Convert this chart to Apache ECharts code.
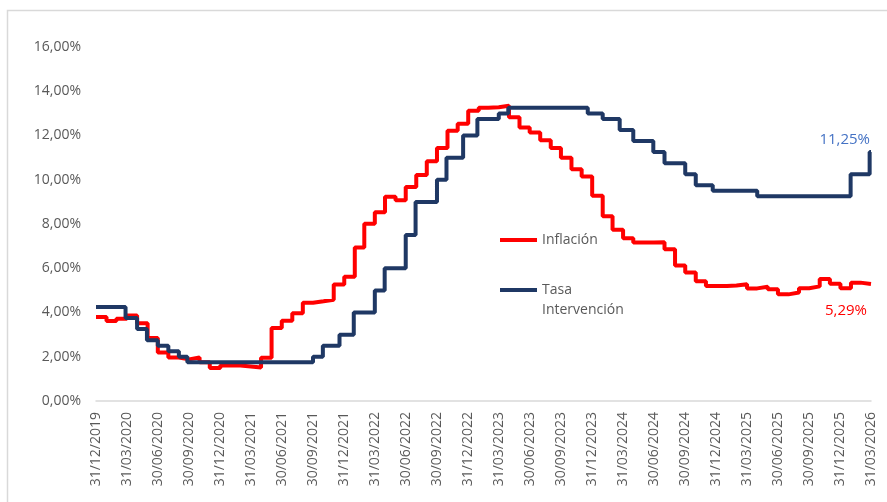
<!DOCTYPE html>
<html>
<head>
<meta charset="utf-8">
<script src="https://cdn.jsdelivr.net/npm/echarts@6/dist/echarts.min.js"></script>
<style>
    html, body { margin: 0; padding: 0; background: #fff; }
    #chart { width: 887px; height: 502px; }
</style>
</head>
<body>
<div id="chart"></div>
<script>
// fechas del eje (fin de trimestre)
var tickLabels = ['31/12/2019', '31/03/2020', '30/06/2020', '30/09/2020', '31/12/2020', '31/03/2021',
    '30/06/2021', '30/09/2021', '31/12/2021', '31/03/2022', '30/06/2022', '30/09/2022', '31/12/2022',
    '31/03/2023', '30/06/2023', '30/09/2023', '31/12/2023', '31/03/2024', '30/06/2024', '30/09/2024',
    '31/12/2024', '31/03/2025', '30/06/2025', '30/09/2025', '31/12/2025', '31/03/2026'];

// inflación anual, un valor por mes (dic 2019 .. mar 2026), fechado a fin de mes
var inflFirstMonth = [2019, 12];
var inflValues = [
    3.80,
    3.62, 3.72, 3.86, 3.51, 2.85, 2.19, 1.97, 1.88, 1.97, 1.75, 1.49, 1.61,
    1.60, 1.56, 1.51, 1.95, 3.30, 3.63, 3.97, 4.44, 4.51, 4.58, 5.26, 5.62,
    6.94, 8.01, 8.53, 9.23, 9.07, 9.67, 10.21, 10.84, 11.44, 12.22, 12.53, 13.12,
    13.25, 13.28, 13.34, 12.82, 12.36, 12.13, 11.78, 11.43, 10.99, 10.48, 10.15, 9.28,
    8.35, 7.74, 7.36, 7.16, 7.16, 7.18, 6.86, 6.12, 5.81, 5.41, 5.20, 5.20,
    5.22, 5.28, 5.09, 5.16, 5.05, 4.82, 4.90, 5.10, 5.18, 5.51, 5.30, 5.10,
    5.35, 5.29, 5.29
];

// tasa de intervención: fecha de cada cambio y nivel
var rateDates = ['2019-12-31', '2020-03-27', '2020-04-30', '2020-05-29', '2020-06-30', '2020-07-31',
    '2020-08-31', '2020-09-25', '2021-09-30', '2021-10-29', '2021-12-17', '2022-01-28', '2022-03-31',
    '2022-04-29', '2022-06-30', '2022-07-29', '2022-09-30', '2022-10-28', '2022-12-16', '2023-01-27',
    '2023-03-31', '2023-04-28', '2023-12-18', '2024-01-31', '2024-03-21', '2024-04-30', '2024-06-28',
    '2024-07-31', '2024-09-30', '2024-10-31', '2024-12-20', '2025-04-30', '2026-01-30', '2026-03-27',
    '2026-03-31'];
var rateValues = [4.25, 3.75, 3.25, 2.75, 2.50, 2.25,
    2.00, 1.75, 2.00, 2.50, 3.00, 4.00, 5.00,
    6.00, 7.50, 9.00, 10.00, 11.00, 12.00, 12.75,
    13.00, 13.25, 13.00, 12.75, 12.25, 11.75, 11.25,
    10.75, 10.25, 9.75, 9.50, 9.25, 10.25, 11.25,
    11.25];

var RED = '#FF0000';
var NAVY = '#1F3864';
var TEXT = '#595959';

function pad(n) {
    return n < 10 ? '0' + n : '' + n;
}

function fmtPct(v) {
    return v.toFixed(2).replace('.', ',') + '%';
}

function parseDmy(s) {
    var p = s.split('/');
    return new Date(+p[2], +p[1] - 1, +p[0]).getTime();
}

function parseYmd(s) {
    var p = s.split('-');
    return new Date(+p[0], +p[1] - 1, +p[2]).getTime();
}

var inflData = inflValues.map(function (v, i) {
    // último día del mes i contado desde el primer mes
    var d = new Date(inflFirstMonth[0], inflFirstMonth[1] + i, 0);
    return [d.getTime(), v];
});

var rateData = rateDates.map(function (d, i) {
    return [parseYmd(d), rateValues[i]];
});

var tickValues = tickLabels.map(parseDmy);

var chart = echarts.init(document.getElementById('chart'));

var option = {
    animation: false,
    textStyle: {fontFamily: 'Open Sans'},
    graphic: [
        {
            type: 'rect',
            silent: true,
            shape: {x: 7.5, y: 10.5, width: 900, height: 520},
            style: {fill: 'none', stroke: '#D9D9D9', lineWidth: 1.5}
        }
    ],
    grid: {left: 96, right: 16, top: 47, bottom: 101},
    legend: [
        {
            data: ['Inflación'],
            left: 500,
            top: 233,
            padding: 0,
            icon: 'rect',
            itemWidth: 37,
            itemHeight: 4,
            selectedMode: false,
            textStyle: {fontSize: 14, color: TEXT}
        },
        {
            data: ['Tasa Intervención'],
            left: 500,
            top: 260,
            padding: 0,
            icon: 'rect',
            itemWidth: 37,
            itemHeight: 4,
            selectedMode: false,
            // línea vacía arriba para que "Tasa" quede a la altura del icono
            formatter: function () {
                return ' \nTasa\nIntervención';
            },
            textStyle: {fontSize: 14, color: TEXT, lineHeight: 20}
        }
    ],
    xAxis: {
        type: 'value',
        min: tickValues[0],
        max: tickValues[tickValues.length - 1],
        axisLine: {lineStyle: {color: '#D9D9D9', width: 1.5}},
        axisTick: {show: false},
        splitLine: {show: false},
        axisLabel: {
            customValues: tickValues,
            rotate: 90,
            margin: 11,
            fontSize: 14,
            color: TEXT,
            hideOverlap: false,
            formatter: function (val) {
                var d = new Date(val);
                return pad(d.getDate()) + '/' + pad(d.getMonth() + 1) + '/' + d.getFullYear();
            }
        }
    },
    yAxis: {
        type: 'value',
        min: 0,
        max: 16,
        interval: 2,
        axisLine: {show: false},
        axisTick: {show: false},
        splitLine: {show: false},
        axisLabel: {
            margin: 15,
            fontSize: 14,
            color: TEXT,
            formatter: fmtPct
        }
    },
    series: [
        {
            name: 'Inflación',
            type: 'line',
            step: 'end',
            showSymbol: false,
            symbol: 'none',
            data: inflData,
            lineStyle: {color: RED, width: 4},
            itemStyle: {color: RED},
            endLabel: {
                show: true,
                formatter: function (p) { return fmtPct(p.value[1]); },
                color: RED,
                fontSize: 15,
                align: 'right',
                verticalAlign: 'top',
                offset: [-12, 19]
            }
        },
        {
            name: 'Tasa Intervención',
            type: 'line',
            step: 'end',
            showSymbol: false,
            symbol: 'none',
            data: rateData,
            lineStyle: {color: NAVY, width: 4},
            itemStyle: {color: NAVY},
            endLabel: {
                show: true,
                formatter: function (p) { return fmtPct(p.value[1]); },
                color: '#4472C4',
                fontSize: 15,
                align: 'right',
                verticalAlign: 'bottom',
                offset: [-9, -5]
            }
        }
    ]
};

chart.setOption(option);
window.addEventListener('resize', function () {
    chart.resize();
});
</script>
</body>
</html>
